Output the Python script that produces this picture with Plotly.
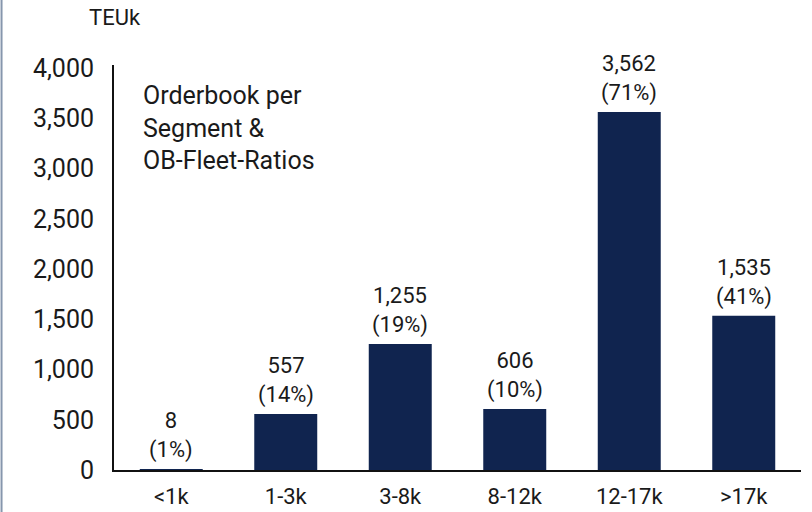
import plotly.graph_objects as go

categories = ["<1k", "1-3k", "3-8k", "8-12k", "12-17k", ">17k"]
orderbook_teu_k = [8, 557, 1255, 606, 3562, 1535]
ob_fleet_ratio_pct = [1, 14, 19, 10, 71, 41]
y_ticks = [0, 500, 1000, 1500, 2000, 2500, 3000, 3500, 4000]

FONT = "Roboto"
BAR = "#10244f"
TXT = "#1a1a1a"

fig = go.Figure()
fig.add_trace(go.Bar(
    x=categories, y=orderbook_teu_k, width=0.55,
    marker=dict(color=BAR, line=dict(width=0)),
    hoverinfo="skip",
))

for c, v, p in zip(categories, orderbook_teu_k, ob_fleet_ratio_pct):
    fig.add_annotation(x=c, y=v, xref="x", yref="y",
                       text=f"{v:,}<br>({p}%)", showarrow=False,
                       yanchor="bottom", yshift=4,
                       font=dict(family=FONT, size=22, color=TXT))

fig.add_annotation(x=0.04, y=0.965, xref="paper", yref="paper",
                   xanchor="left", yanchor="top", align="left",
                   text="Orderbook per<br>Segment &<br>OB-Fleet-Ratios",
                   showarrow=False,
                   font=dict(family=FONT, size=25, color=TXT))

fig.add_annotation(x=0.001, y=1.1185, xref="paper", yref="paper",
                   xanchor="center", yanchor="middle",
                   text="TEUk", showarrow=False,
                   font=dict(family=FONT, size=22, color=TXT))

fig.add_shape(type="line", xref="paper", yref="paper",
              x0=-0.1637, x1=-0.1637, y0=-0.11, y1=1.17,
              line=dict(color="#8696ad", width=2))

fig.update_layout(
    width=812, height=512,
    margin=dict(l=114, r=11, t=65, b=42),
    paper_bgcolor="white", plot_bgcolor="white",
    showlegend=False,
    bargap=0.45,
    font=dict(family=FONT, size=22, color=TXT),
    xaxis=dict(range=[-0.5, 5.5], showline=True, linecolor="#111", linewidth=2,
               ticks="", showgrid=False, ticklabelstandoff=6, automargin=False,
               tickfont=dict(size=22, color=TXT)),
    yaxis=dict(range=[0, 4030], tickvals=y_ticks, tickformat=",",
               showline=True, linecolor="#111", linewidth=2, automargin=False,
               ticks="", showgrid=False, zeroline=False,
               ticklabelstandoff=13, tickfont=dict(size=25, color=TXT)),
)

fig.write_html("out.html", config={"displayModeBar": False},
               post_script="document.body.style.margin='0';")
